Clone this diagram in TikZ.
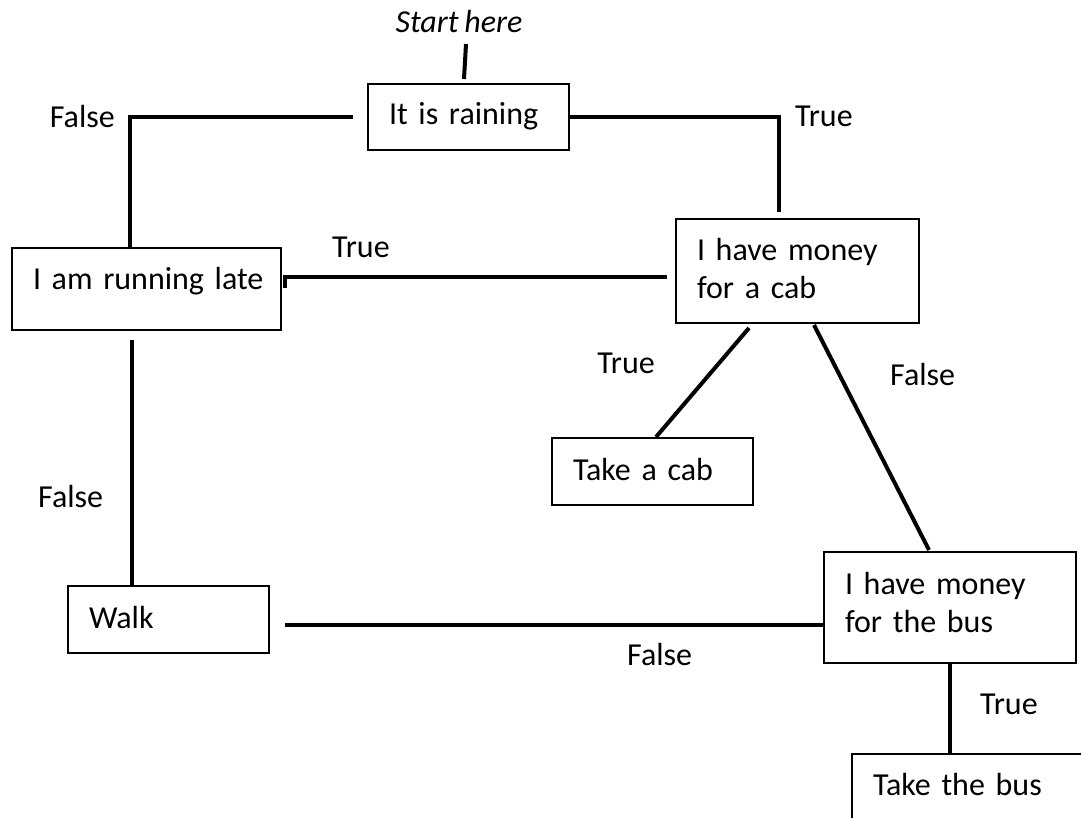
\documentclass[tikz,border=0pt]{standalone}
\usepackage{fontspec}
\setmainfont{Carlito}
\usetikzlibrary{calc}
\newcommand\chartfont{\fontsize{32}{38}\selectfont\spaceskip 6pt\relax}
\tikzset{every node/.style = {font=\chartfont}}
\tikzset{box/.style = {draw, line width=2pt, anchor=north west, inner xsep=21pt, inner ysep=0pt, align=left}}
\tikzset{conn/.style = {line width=4pt}}
\tikzset{lbl/.style = {inner sep=0pt}}

\begin{document}
\begin{tikzpicture}[x=1pt, y=-1pt]
\useasboundingbox (0,0) rectangle (1081,818);
\clip (0,0) rectangle (1081,818);
\node [lbl, anchor=base, font=\chartfont\itshape] (start) at (459,33) {Start here};
\node [box, text width=159pt, text height=41pt, text depth=25pt] (rain) at (367,83) {It is raining};
\node [box, text width=227pt, text height=41pt, text depth=41pt] (late) at (11,247) {\mbox{I am running late}};
\node [box, text width=201pt, text height=42pt, text depth=62pt] (cab) at (675,218) {I have money\\for a cab};
\node [box, text width=159pt, text height=42pt, text depth=25pt] (takecab) at (551,437) {Take a cab};
\node [box, text width=210pt, text height=42pt, text depth=69pt] (bus) at (823,551) {I have money\\for the bus};
\node [box, text width=159pt, text height=42pt, text depth=25pt] (walk) at (67,585) {Walk};
\node [box, text width=218pt, text height=41pt, text depth=59pt] (takebus) at (851,753) {Take the bus};
\draw [conn] ([xshift=7pt,yshift=-11pt]start.base) -- ([xshift=-4.5pt,yshift=4pt]rain.north);
\draw [conn] ([xshift=-14pt]rain.west) -| ([xshift=-16.5pt]late.north);
\draw [conn] (rain.east) -| ([xshift=-18.5pt,yshift=6pt]cab.north);
\draw [conn] ([xshift=-8pt,yshift=-6pt]cab.west) -| ([xshift=3pt,yshift=1pt]late.east);
\draw [conn] ([xshift=-48.5pt,yshift=-4pt]cab.south) -- ([xshift=3.5pt]takecab.north);
\draw [conn] ([xshift=16.5pt,yshift=-1pt]cab.south) -- ([xshift=-21pt,yshift=1pt]bus.north);
\draw [conn] ([xshift=-14.5pt,yshift=-9pt]late.south) -- ([xshift=-36.5pt]walk.north);
\draw [conn] ([xshift=15pt,yshift=-5.5pt]walk.east) -- ([yshift=-17.5pt]bus.west);
\draw [conn] (bus.south) -- (bus.south |- takebus.north);
\node [lbl, anchor=base east] (f1) at (115,128) {False};
\node [lbl, anchor=base west] (t1) at (795,127) {True};
\node [lbl, anchor=base west] (t2) at (332,258) {True};
\node [lbl, anchor=base east] (t3) at (655,373) {True};
\node [lbl, anchor=base west] (f2) at (890,385) {False};
\node [lbl, anchor=base west] (f3) at (38,507) {False};
\node [lbl, anchor=base west] (f4) at (627,665) {False};
\node [lbl, anchor=base west] (t4) at (980,714) {True};
\end{tikzpicture}
\end{document}
